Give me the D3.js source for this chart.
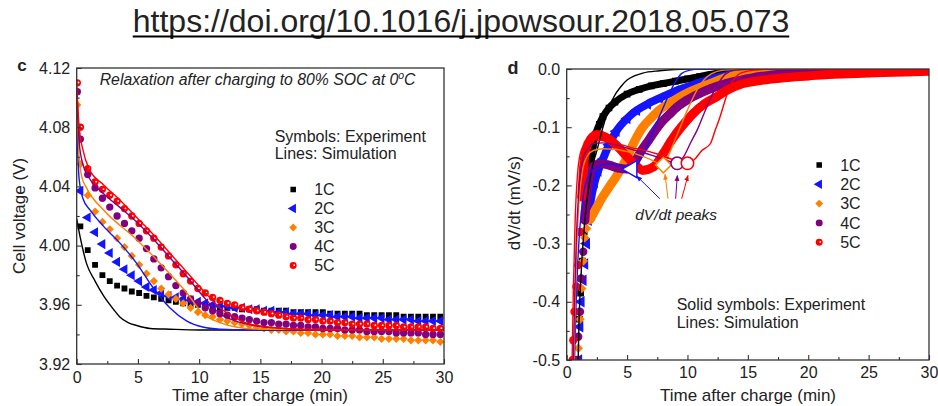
<!DOCTYPE html>
<meta charset="utf-8">
<style>
  body { margin: 0; background: #fff; }
  svg text { font-family: "Liberation Sans", Arial, sans-serif; fill: #222; }
</style>
<svg id="fig" width="938" height="406"></svg>
<script src="https://d3js.org/d3.v7.min.js"></script>
<script>

var rates = ["1C", "2C", "3C", "4C", "5C"];
var colors = ["#000000", "#1414ff", "#ff8000", "#800080", "#ff0000"];
var shapes = ["square", "triangle", "diamond", "circle", "circle"];

// ---- panel c: cell voltage (V) vs time after charge (min)
var timesC = [0.05, 0.3, 0.9, 1.5, 2.1, 2.7, 3.3, 3.9, 4.5, 5.1, 5.7, 6.3, 6.9, 7.5, 8.1, 8.7, 9.3, 9.9,
  10.5, 11.1, 11.7, 12.3, 12.9, 13.5, 14.1, 14.7, 15.3, 15.9, 16.5, 17.1, 17.7, 18.3, 18.9, 19.5, 20.1,
  20.7, 21.3, 21.9, 22.5, 23.1, 23.7, 24.3, 24.9, 25.5, 26.1, 26.7, 27.3, 27.9, 28.5, 29.1, 29.7];

// null = no symbol at that time
var volt1C = [null, 4.013, 3.997, 3.987, 3.980, 3.976, 3.973, 3.971, 3.969, 3.968,
  3.966, 3.965, 3.964, 3.963, 3.962, 3.961, 3.960, 3.960, 3.959, 3.959,
  3.958, 3.958, 3.958, 3.957, 3.957, 3.957, 3.956, 3.956, 3.956, 3.956,
  3.955, 3.955, 3.955, 3.955, 3.955, 3.954, 3.954, 3.954, 3.954, 3.954,
  3.953, 3.953, 3.953, 3.953, 3.953, 3.952, 3.952, 3.952, 3.952, 3.952, 3.952];
var volt2C = [4.075, 4.037, 4.019, 4.009, 4.001, 3.995, 3.989, 3.984, 3.980, 3.976,
  3.972, 3.970, 3.968, 3.966, 3.965, 3.964, 3.963, 3.962, 3.961, 3.960,
  3.959, 3.959, 3.958, 3.958, 3.957, 3.957, 3.956, 3.956, 3.955, 3.955,
  3.954, 3.954, 3.954, 3.953, 3.953, 3.953, 3.952, 3.952, 3.952, 3.951,
  3.951, 3.951, 3.951, 3.950, 3.950, 3.950, 3.950, 3.949, 3.949, 3.949, 3.949];
var volt3C = [4.095, 4.055, 4.034, 4.023, 4.016, 4.011, 4.005, 3.999, 3.993, 3.987,
  3.981, 3.976, 3.971, 3.967, 3.964, 3.961, 3.958, 3.955, 3.953, 3.952,
  3.950, 3.949, 3.948, 3.947, 3.946, 3.945, 3.944, 3.943, 3.943, 3.942,
  3.942, 3.941, 3.941, 3.940, 3.940, 3.940, 3.939, 3.939, 3.939, 3.938,
  3.938, 3.938, 3.937, 3.937, 3.937, 3.937, 3.936, 3.936, 3.936, 3.936, 3.935];
var volt4C = [4.104, 4.072, 4.048, 4.039, 4.032, 4.026, 4.020, 4.015, 4.010, 4.005,
  3.998, 3.991, 3.985, 3.979, 3.973, 3.968, 3.964, 3.961, 3.958, 3.956,
  3.954, 3.953, 3.952, 3.951, 3.950, 3.949, 3.948, 3.948, 3.947, 3.947,
  3.946, 3.946, 3.945, 3.945, 3.944, 3.944, 3.944, 3.943, 3.943, 3.943,
  3.942, 3.942, 3.942, 3.942, 3.941, 3.941, 3.941, 3.941, 3.940, 3.940, 3.940];
var volt5C = [4.110, 4.080, 4.052, 4.043, 4.038, 4.034, 4.030, 4.025, 4.020, 4.015,
  4.010, 4.005, 3.999, 3.993, 3.987, 3.981, 3.976, 3.971, 3.968, 3.965,
  3.963, 3.961, 3.960, 3.958, 3.957, 3.956, 3.955, 3.954, 3.953, 3.952,
  3.951, 3.951, 3.950, 3.950, 3.949, 3.949, 3.948, 3.948, 3.947, 3.947,
  3.947, 3.946, 3.946, 3.946, 3.946, 3.945, 3.945, 3.945, 3.945, 3.944, 3.944];

// simulation lines, [min, V]
var simV1C = [[0, 4.018], [0.3, 4.005], [0.8, 3.988], [1.5, 3.976], [2.2, 3.966], [3.0, 3.957], [3.5, 3.952],
  [4.2, 3.948], [4.9, 3.946], [6.0, 3.944], [7.6, 3.9435], [10, 3.943], [30, 3.943]];
var simV2C = [[0, 4.08], [0.2, 4.045], [0.5, 4.032], [1.1, 4.024], [2.2, 4.013], [3.5, 4.002], [4.9, 3.988],
  [6.2, 3.972], [7.6, 3.958], [9.0, 3.949], [10.3, 3.945], [11.7, 3.9435], [14, 3.943], [30, 3.943]];
var simV3C = [[0, 4.096], [0.2, 4.06], [0.4, 4.047], [0.8, 4.039], [2.2, 4.024], [4.9, 4.004], [7.6, 3.981],
  [9.0, 3.968], [10.3, 3.954], [11.7, 3.948], [13, 3.945], [15, 3.9435], [30, 3.943]];
var simV4C = [[0, 4.105], [0.2, 4.07], [0.5, 4.055], [1.0, 4.046], [2.2, 4.035], [3.5, 4.026], [4.9, 4.016],
  [6.2, 4.005], [7.6, 3.992], [9.0, 3.979], [10.3, 3.966], [11.7, 3.954], [13, 3.949], [14.5, 3.946],
  [17, 3.944], [20, 3.943], [30, 3.943]];
var simV5C = [[0, 4.11], [0.2, 4.08], [0.5, 4.065], [1.0, 4.052], [2.2, 4.041], [3.5, 4.031], [4.9, 4.019],
  [6.2, 4.008], [7.6, 3.995], [9.0, 3.982], [10.3, 3.97], [11.7, 3.958], [13, 3.951], [14.1, 3.947],
  [17, 3.944], [20, 3.943], [30, 3.943]];

// ---- panel d: dV/dt (mV/s) vs time after charge (min)
var rate1C = [[0.95, -0.5], [1.05, -0.43], [1.15, -0.385], [1.3, -0.33], [1.45, -0.28], [1.6, -0.24], [1.8, -0.2],
  [2.0, -0.16], [2.2, -0.13], [2.4, -0.112], [2.7, -0.095], [3.0, -0.082], [3.5, -0.067], [4.0, -0.057],
  [5.0, -0.043], [6.0, -0.035], [7.0, -0.029], [8.0, -0.025], [9.0, -0.021], [10.0, -0.017], [11.0, -0.013],
  [12.0, -0.009], [13.0, -0.006], [14.0, -0.004], [16.0, -0.002], [18.0, -0.001], [20.0, 0]];
var rate2C = [[1.0, -0.5], [1.1, -0.443], [1.2, -0.40], [1.37, -0.363], [1.5, -0.335], [1.65, -0.30], [1.8, -0.26],
  [2.0, -0.225], [2.3, -0.195], [2.6, -0.175], [3.0, -0.155], [3.5, -0.13], [4.1, -0.107], [5.0, -0.085],
  [5.8, -0.071], [6.7, -0.06], [7.7, -0.05], [9.0, -0.038], [10.5, -0.027], [12.0, -0.017], [13.2, -0.011],
  [15.0, -0.006], [17.0, -0.003], [20.0, -0.001], [24.0, 0]];
var rate3C = [[0.96, -0.48], [1.1, -0.43], [1.24, -0.377], [1.37, -0.33], [1.5, -0.29], [1.65, -0.274],
  [1.93, -0.259], [2.5, -0.237], [3.0, -0.219], [3.5, -0.203], [4.1, -0.185], [5.0, -0.152], [5.6, -0.125],
  [6.3, -0.10], [7.0, -0.084], [7.7, -0.07], [8.8, -0.055], [9.9, -0.042], [11.0, -0.032], [11.9, -0.025],
  [13.0, -0.016], [14.0, -0.010], [16.0, -0.005], [18.0, -0.003], [21.0, -0.001], [25.0, 0]];
var rate4C = [[0.85, -0.5], [0.95, -0.46], [1.1, -0.417], [1.2, -0.36], [1.37, -0.314], [1.5, -0.26], [1.7, -0.21],
  [1.9, -0.185], [2.2, -0.168], [2.8, -0.163], [3.5, -0.165], [4.2, -0.17], [5.0, -0.172], [5.6, -0.16],
  [6.2, -0.14], [6.8, -0.122], [7.7, -0.095], [8.5, -0.078], [9.1, -0.066], [10.0, -0.053], [11.0, -0.042],
  [12.0, -0.033], [13.2, -0.025], [14.5, -0.019], [16.0, -0.013], [18.0, -0.008], [20.0, -0.005],
  [23.0, -0.003], [26.0, -0.001], [30.0, 0]];
var rate5C = [[0.5, -0.5], [0.55, -0.466], [0.65, -0.417], [0.8, -0.374], [0.95, -0.337], [1.1, -0.28],
  [1.25, -0.22], [1.4, -0.17], [1.6, -0.138], [2.0, -0.12], [2.5, -0.113], [3.0, -0.115], [3.6, -0.122],
  [4.3, -0.135], [5.0, -0.151], [5.7, -0.165], [6.3, -0.174], [7.2, -0.168], [8.0, -0.145], [8.6, -0.125],
  [9.1, -0.11], [9.8, -0.092], [10.5, -0.076], [11.4, -0.06], [12.4, -0.048], [13.3, -0.036], [14.3, -0.027],
  [16.0, -0.02], [18.0, -0.015], [20.0, -0.012], [22.0, -0.009], [25.0, -0.007], [28.0, -0.005], [30.0, -0.004]];

var simR1C = [[0.95, -0.5], [1.0, -0.45], [1.2, -0.35], [1.5, -0.26], [2.0, -0.18], [2.5, -0.14], [3.0, -0.10],
  [3.5, -0.068], [3.9, -0.048], [4.5, -0.03], [5.0, -0.019], [5.6, -0.012], [6.3, -0.007], [7.7, -0.003],
  [10.0, 0], [30, 0]];
var simR2C = [[0.65, -0.5], [0.75, -0.42], [0.9, -0.34], [1.1, -0.27], [1.4, -0.215], [1.8, -0.183], [2.5, -0.168],
  [3.5, -0.163], [4.5, -0.166], [5.4, -0.172], [6.0, -0.16], [6.6, -0.135], [7.1, -0.11], [7.5, -0.09],
  [8.0, -0.066], [8.5, -0.042], [9.0, -0.022], [9.5, -0.008], [10.2, -0.002], [11.0, 0], [30, 0]];
var simR3C = [[0.6, -0.5], [0.7, -0.4], [0.85, -0.3], [1.05, -0.22], [1.3, -0.175], [1.7, -0.15], [2.2, -0.14],
  [3.0, -0.137], [4.0, -0.138], [5.0, -0.142], [6.0, -0.148], [7.0, -0.156], [8.0, -0.165], [8.4, -0.15],
  [8.9, -0.125], [9.4, -0.1], [9.9, -0.075], [10.4, -0.052], [10.9, -0.032], [11.4, -0.018], [12.0, -0.008],
  [13.0, -0.002], [15.0, 0], [30, 0]];
var simR4C = [[0.55, -0.5], [0.65, -0.4], [0.8, -0.29], [1.0, -0.21], [1.3, -0.16], [1.7, -0.138], [2.3, -0.128],
  [3.0, -0.127], [4.0, -0.13], [5.0, -0.136], [6.0, -0.142], [7.0, -0.148], [8.0, -0.155], [9.15, -0.162],
  [9.7, -0.15], [10.3, -0.125], [10.8, -0.105], [11.4, -0.075], [12.1, -0.042], [12.7, -0.02], [13.2, -0.008],
  [14.0, -0.002], [16.0, 0], [30, 0]];
var simR5C = [[0.45, -0.5], [0.55, -0.38], [0.7, -0.26], [0.9, -0.18], [1.2, -0.14], [1.7, -0.126], [2.5, -0.122],
  [3.5, -0.125], [4.5, -0.13], [5.5, -0.136], [6.3, -0.139], [7.5, -0.146], [8.7, -0.155], [10.0, -0.162],
  [10.6, -0.155], [11.2, -0.14], [11.9, -0.128], [12.3, -0.105], [12.7, -0.082], [13.1, -0.055], [13.5, -0.03],
  [14.0, -0.014], [14.4, -0.007], [15.5, -0.002], [17.0, 0], [30, 0]];

// dV/dt peaks of the simulated 2C..5C curves and the arrows pointing at them
var peakRate = [1, 2, 3, 4];
var peakT = [5.4, 8.0, 9.15, 10.0];
var peakV = [-0.172, -0.165, -0.162, -0.162];
var arrowFrom = [[7.72, -0.223], [8.39, -0.223], [9.02, -0.223], [9.52, -0.223]];
var arrowTo = [[5.8, -0.184], [8.14, -0.181], [9.16, -0.183], [10.04, -0.183]];

var svg = d3.select("#fig");

function Chart(id, box, xdom, ydom) {
  var g = svg.append("g").attr("transform", "translate(" + box.left + "," + box.top + ")");
  var x = d3.scaleLinear().domain(xdom).range([0, box.width]);
  var y = d3.scaleLinear().domain(ydom).range([box.height, 0]);
  g.append("clipPath").attr("id", "clip-" + id)
    .append("rect").attr("width", box.width).attr("height", box.height);
  var plot = g.append("g").attr("clip-path", "url(#clip-" + id + ")");
  var line = d3.line()
      .curve(d3.curveMonotoneX)
      .x(function(d) { return x(d[0]); })
      .y(function(d) { return y(d[1]); });
  return { g: g, plot: plot, x: x, y: y, width: box.width, height: box.height, line: line };
}

function styleAxis(a) {
  a.select(".domain").remove();
  a.selectAll("line").attr("stroke", "#333").attr("stroke-width", 1.1);
  a.selectAll("text").attr("font-size", 16).attr("fill", "#222")
    .attr("font-family", "'Liberation Sans', Arial, sans-serif");
}

function axes(chart, xMajor, xMinor, yMajor, yMinor, yFmt, xPad) {
  var b = chart.g.append("g").attr("transform", "translate(0," + chart.height + ")")
      .call(d3.axisBottom(chart.x).tickValues(xMajor).tickSize(-5).tickPadding(xPad)
        .tickFormat(function(d) { return d; }));
  styleAxis(b);
  var bm = chart.g.append("g").attr("transform", "translate(0," + chart.height + ")")
      .call(d3.axisBottom(chart.x).tickValues(xMinor).tickSize(-3).tickFormat(""));
  styleAxis(bm);
  var l = chart.g.append("g")
      .call(d3.axisLeft(chart.y).tickValues(yMajor).tickSize(-5).tickPadding(6.5).tickFormat(yFmt));
  styleAxis(l);
  var lm = chart.g.append("g")
      .call(d3.axisLeft(chart.y).tickValues(yMinor).tickSize(-3).tickFormat(""));
  styleAxis(lm);
}

function frame(chart) {
  chart.g.append("rect")
      .attr("width", chart.width).attr("height", chart.height)
      .attr("fill", "none").attr("stroke", "#333").attr("stroke-width", 1.3);
}

var symbolPath = {
  square: d3.symbol(d3.symbolSquare, 34)(),
  triangle: d3.symbol(d3.symbolTriangle, 44)(),
  diamond: d3.symbol(d3.symbolSquare, 34)(),
  circle: d3.symbol(d3.symbolCircle, 42)()
};
var symbolRot = { square: 0, triangle: -90, diamond: 45, circle: 0 };

// filled marker(s) of series i, k scales the symbol; shine adds the white spot of the 5C balls
function markers(parent, pts, i, k, fx, fy, shine) {
  var shape = shapes[i];
  var m = parent.append("g").selectAll("g").data(pts).join("g")
      .attr("transform", function(d) { return "translate(" + fx(d) + "," + fy(d) + ")"; });
  m.append("path")
      .attr("d", symbolPath[shape])
      .attr("transform", "rotate(" + symbolRot[shape] + ") scale(" + k + ")")
      .attr("fill", colors[i]);
  if (i == 4 && shine) {
    m.append("circle").attr("cx", 1.1 * k).attr("cy", -0.3 * k).attr("r", 0.9 * k).attr("fill", "#fff");
  }
}

function drawSim(chart, data, color, width) {
  chart.plot.append("path")
      .datum(data)
      .attr("fill", "none")
      .attr("stroke", color)
      .attr("stroke-width", width)
      .attr("stroke-linejoin", "round")
      .attr("d", chart.line);
}

function legend(parent, x0, y0, step) {
  rates.forEach(function(r, i) {
    var y = y0 + i * step;
    markers(parent, [0], i, 0.95, function() { return x0; }, function() { return y; }, true);
    parent.append("text").attr("x", x0 + 21).attr("y", y).attr("dy", "0.36em")
        .attr("font-size", 16).text(r);
  });
}

// ---- header
var head = svg.append("text")
    .attr("x", 461).attr("y", 32).attr("text-anchor", "middle")
    .attr("font-size", 32).attr("fill", "#000")
    .text("https://doi.org/10.1016/j.jpowsour.2018.05.073");
var hw = head.node().getComputedTextLength();
svg.append("line").attr("x1", 461 - hw / 2).attr("x2", 461 + hw / 2)
    .attr("y1", 36.5).attr("y2", 36.5).attr("stroke", "#000").attr("stroke-width", 1.8);

// ---- panel c
var cv = Chart("c", { left: 76.7, top: 68, width: 367.3, height: 296 }, [0, 30], [3.92, 4.12]);
var voltages = [volt1C, volt2C, volt3C, volt4C, volt5C];
var simsC = [simV1C, simV2C, simV3C, simV4C, simV5C];
voltages.forEach(function(v, i) {
  var pts = d3.zip(timesC, v).filter(function(d) { return d[1] != null; });
  markers(cv.plot, pts, i, 1,
    function(d) { return cv.x(d[0]); }, function(d) { return cv.y(d[1]); }, true);
});
simsC.forEach(function(s, i) { drawSim(cv, s, colors[i], 1.4); });
axes(cv, [0, 5, 10, 15, 20, 25, 30], [2.5, 7.5, 12.5, 17.5, 22.5, 27.5],
  [3.92, 3.96, 4.00, 4.04, 4.08, 4.12], [3.94, 3.98, 4.02, 4.06, 4.10],
  function(d) { return d.toFixed(2); }, 7.5);
frame(cv);

cv.g.append("text").attr("x", 23).attr("y", 17).attr("font-size", 15.8).attr("font-style", "italic")
    .call(function(t) {
      t.append("tspan").text("Relaxation after charging to 80% SOC at 0");
      t.append("tspan").attr("dy", -6).attr("font-size", 10.5).text("o");
      t.append("tspan").attr("dy", 6).text("C");
    });
cv.g.append("text").attr("x", 198).attr("y", 74).attr("font-size", 16).text("Symbols: Experiment");
cv.g.append("text").attr("x", 198).attr("y", 90.5).attr("font-size", 16).text("Lines: Simulation");
legend(cv.g, 216.5, 121.5, 19);

svg.append("text").attr("x", 22).attr("y", 71).attr("font-size", 17).attr("font-weight", "bold")
    .attr("text-anchor", "middle").text("c");
svg.append("text").attr("transform", "translate(25,216) rotate(-90)")
    .attr("text-anchor", "middle").attr("font-size", 17).text("Cell voltage (V)");
svg.append("text").attr("x", 260).attr("y", 401).attr("text-anchor", "middle")
    .attr("font-size", 17).text("Time after charge (min)");

// ---- panel d
var cd = Chart("d", { left: 566.7, top: 69, width: 362.3, height: 291 }, [0, 30], [-0.5, 0]);
var ratesD = [rate1C, rate2C, rate3C, rate4C, rate5C];
var simsD = [simR1C, simR2C, simR3C, simR4C, simR5C];
var bandWidth = [7, 8, 9, 9, 9];
ratesD.forEach(function(r, i) {
  // dense experimental symbols merge into a thick band above about -0.26 mV/s
  cd.plot.append("path")
      .datum(r.filter(function(d) { return d[1] > -0.27; }))
      .attr("fill", "none").attr("stroke", colors[i])
      .attr("stroke-width", bandWidth[i]).attr("stroke-linecap", "round")
      .attr("d", cd.line);
  markers(cd.plot, r, i, 1.15,
    function(d) { return cd.x(d[0]); }, function(d) { return cd.y(d[1]); }, false);
});
simsD.forEach(function(s, i) { drawSim(cd, s, colors[i], 1.4); });

// open symbols at the simulated dV/dt peaks
var openScale = [1.7, 1.9, 1.7, 1.7];
peakRate.forEach(function(ri, j) {
  var shape = shapes[ri];
  cd.plot.append("path")
      .attr("d", symbolPath[shape])
      .attr("transform", "translate(" + cd.x(peakT[j]) + "," + cd.y(peakV[j]) + ") rotate(" +
        symbolRot[shape] + ") scale(" + openScale[j] + ")")
      .attr("fill", "#fff").attr("stroke", colors[ri]).attr("stroke-width", 1.5 / openScale[j]);
});

var defs = svg.append("defs");
peakRate.forEach(function(ri, j) {
  defs.append("marker").attr("id", "arrow" + j)
      .attr("viewBox", "0 0 10 10").attr("refX", 9).attr("refY", 5)
      .attr("markerWidth", 6).attr("markerHeight", 6).attr("markerUnits", "userSpaceOnUse")
      .attr("orient", "auto")
    .append("path").attr("d", "M0,1L10,5L0,9Z").attr("fill", colors[ri]);
  cd.plot.append("line")
      .attr("x1", cd.x(arrowFrom[j][0])).attr("y1", cd.y(arrowFrom[j][1]))
      .attr("x2", cd.x(arrowTo[j][0])).attr("y2", cd.y(arrowTo[j][1]))
      .attr("stroke", colors[ri]).attr("stroke-width", 1)
      .attr("marker-end", "url(#arrow" + j + ")");
});

axes(cd, [0, 5, 10, 15, 20, 25, 30], [2.5, 7.5, 12.5, 17.5, 22.5, 27.5],
  [-0.5, -0.4, -0.3, -0.2, -0.1, 0], [-0.45, -0.35, -0.25, -0.15, -0.05],
  function(d) { return d.toFixed(1); }, 6.5);
frame(cd);

cd.g.append("text").attr("x", 68.5).attr("y", 150.5).attr("font-size", 15.5).attr("font-style", "italic")
    .text("dV/dt peaks");
legend(cd.g, 252.5, 96, 19.3);
cd.g.append("text").attr("x", 110).attr("y", 241).attr("font-size", 16).text("Solid symbols: Experiment");
cd.g.append("text").attr("x", 110).attr("y", 259).attr("font-size", 16).text("Lines: Simulation");

svg.append("text").attr("x", 513).attr("y", 74).attr("font-size", 18).attr("font-weight", "bold")
    .attr("text-anchor", "middle").text("d");
svg.append("text").attr("transform", "translate(520,203) rotate(-90)")
    .attr("text-anchor", "middle").attr("font-size", 17).text("dV/dt (mV/s)");
svg.append("text").attr("x", 748).attr("y", 401).attr("text-anchor", "middle")
    .attr("font-size", 17).text("Time after charge (min)");
</script>
